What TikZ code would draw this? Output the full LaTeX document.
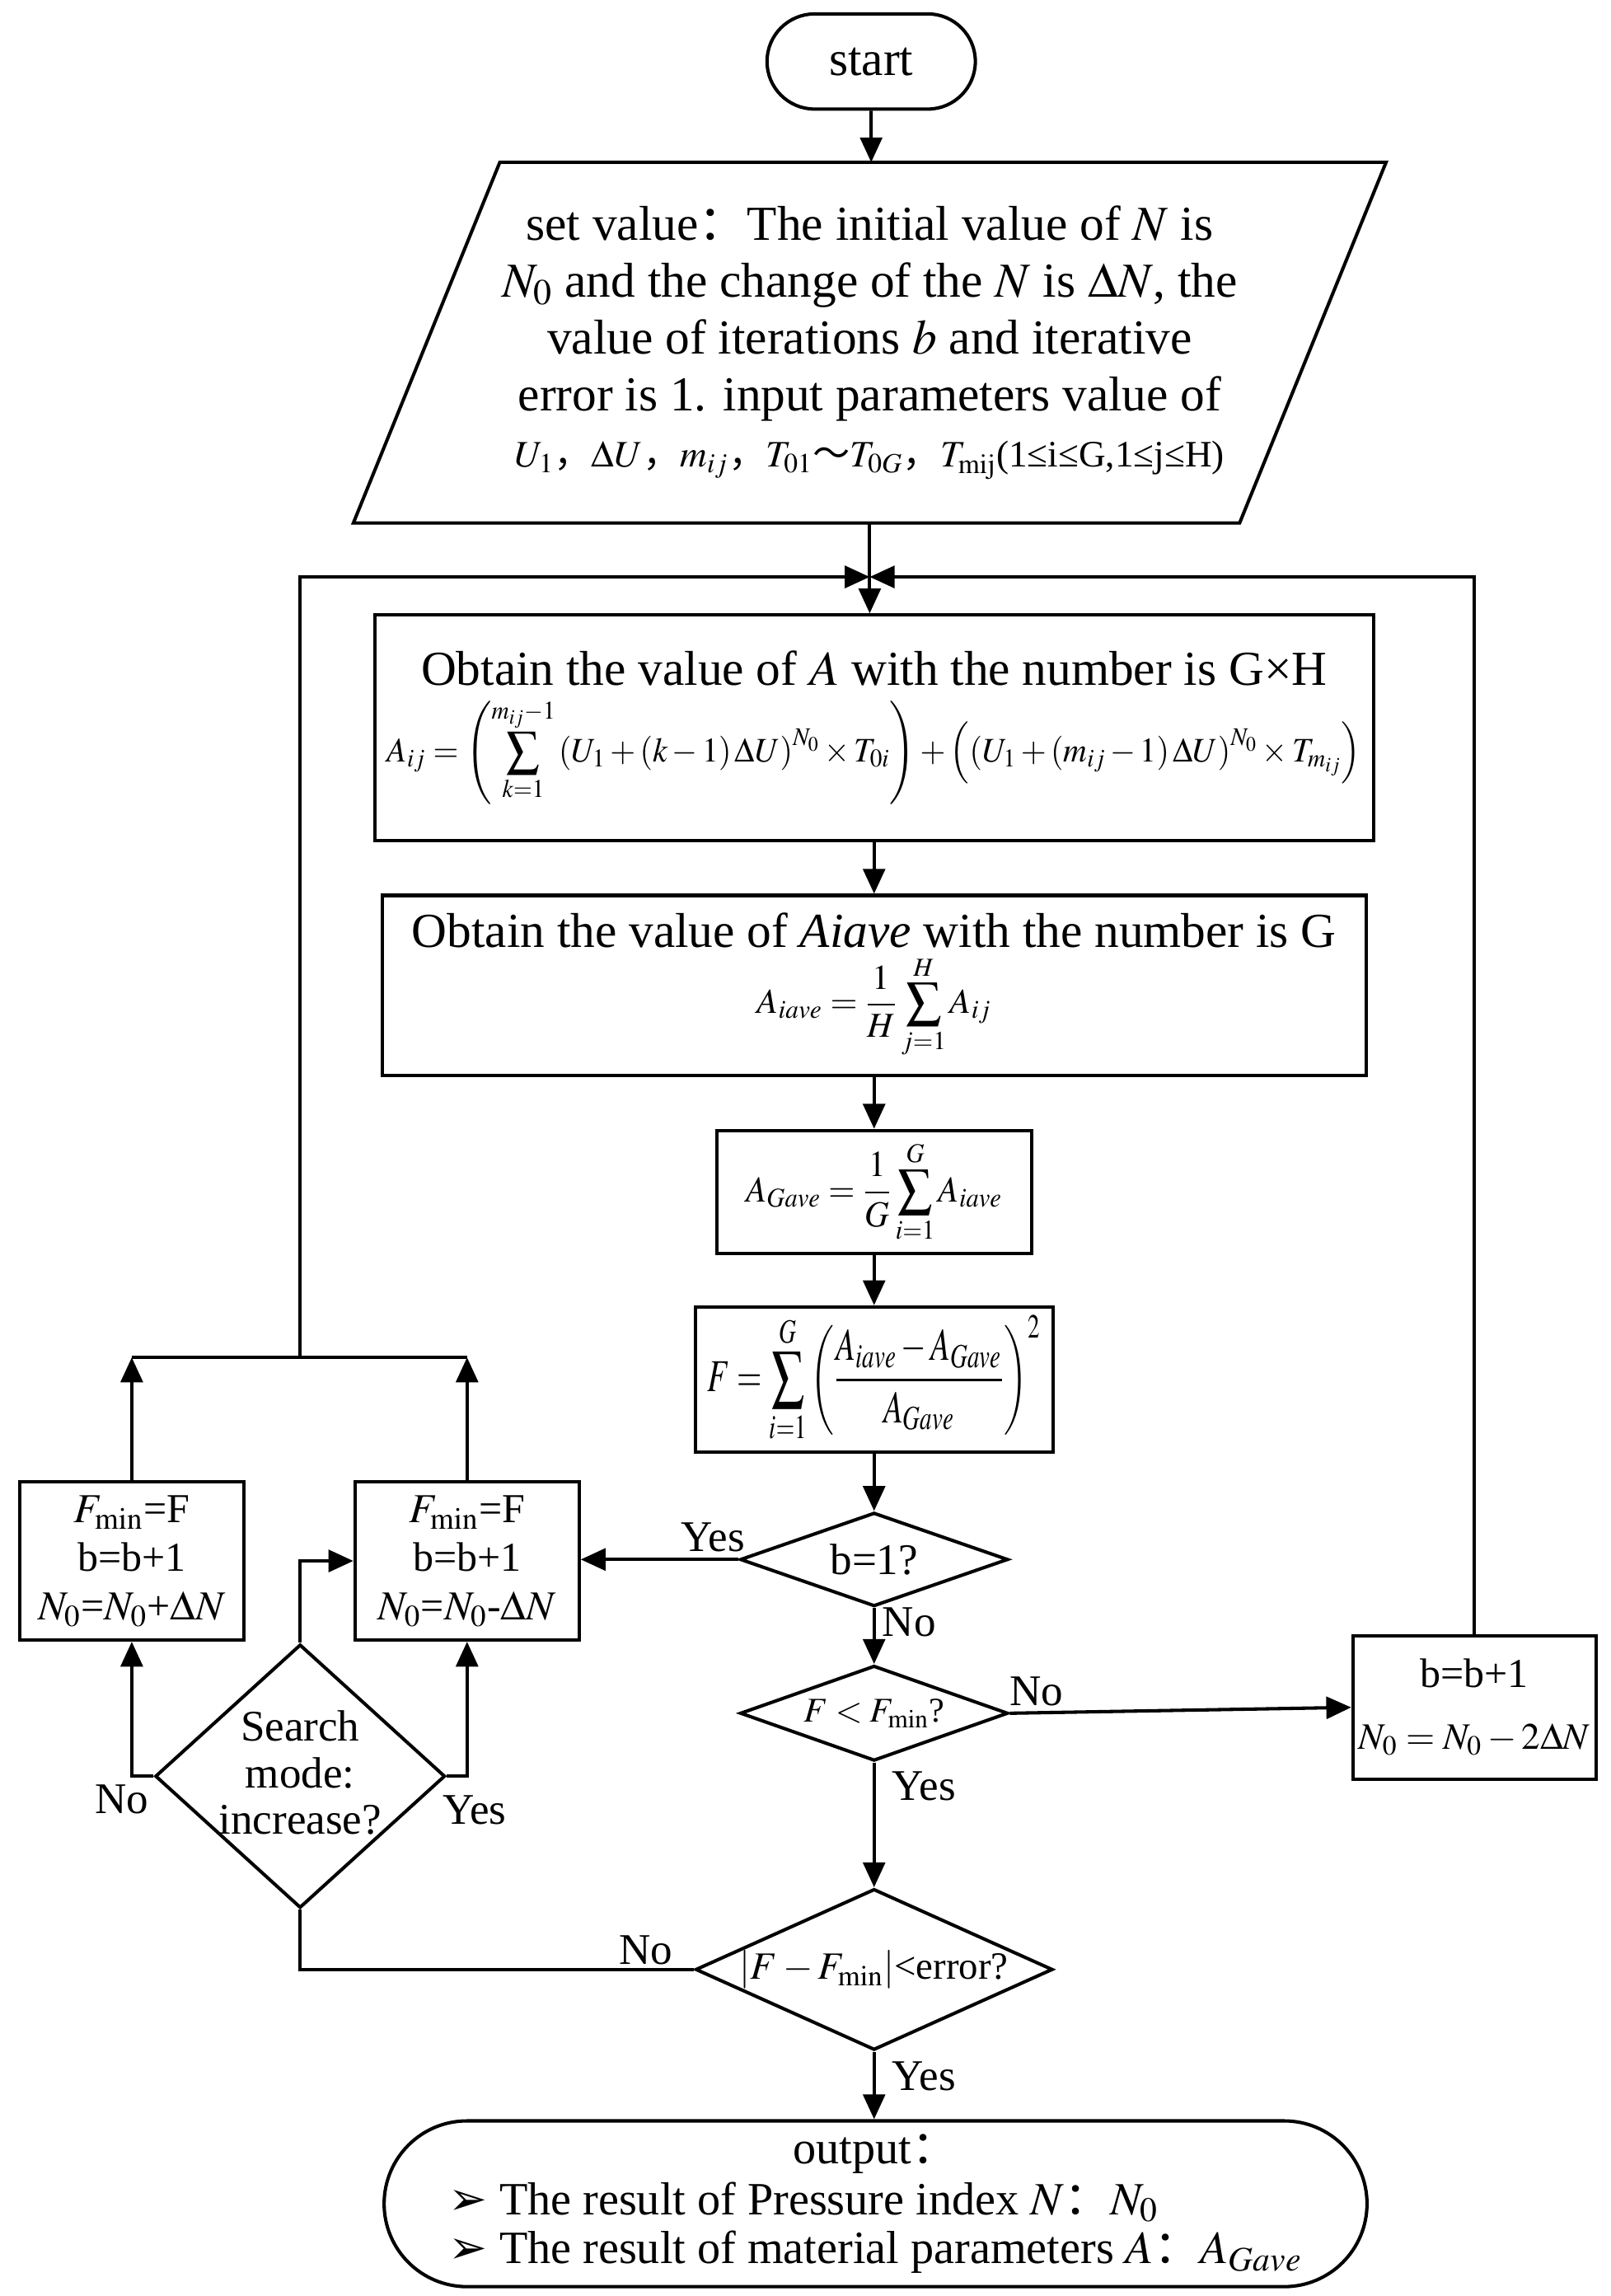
\documentclass[tikz,border=0pt]{standalone}
\usepackage{mathptmx}
\usepackage{graphicx}
\usepackage{fontspec}
\setmainfont{Liberation Serif}
\newfontfamily\cjk{Noto Sans CJK SC}
\newfontfamily\dvsans{DejaVu Sans}
\usetikzlibrary{arrows.meta,shapes.geometric,shapes.misc}

\begin{document}
\begin{tikzpicture}[x=0.2mm, y=-0.2mm, line width=1.3pt,
    font=\fontsize{17}{22}\selectfont,
    big/.style={font=\fontsize{19}{22}\selectfont},
    box/.style={draw, rectangle, inner sep=2pt, align=center},
    dia/.style={draw, diamond, inner sep=0pt},
    arr/.style={-{Triangle[length=3.4mm,width=3mm]}}]
  \useasboundingbox (0,0) rectangle (1100,1568);

  % main column
  \node[draw, big, rounded rectangle, minimum width=3.08cm, minimum height=1.3cm] at (595,42) (St) {start};
  \node[big, rectangle, minimum width=12.06cm, minimum height=4.88cm,
        inner sep=0pt, align=center] at (594,234) (In)
    {set value{\cjk ：}The initial value of $N$ is\\
     $N_0$ and the change of the $N$ is $\Delta N$, the\\
     value of iterations $b$ and iterative\\
     error is 1. input parameters value of\\
     {\fontsize{14.5}{22}\selectfont $U_1${\cjk ，}$\Delta U${\cjk ，}$m_{ij}${\cjk ，}$T_{01}${\cjk ～}$T_{0G}${\cjk ，}$T_{\mathrm{mij}}$(1≤i≤G,1≤j≤H)}};
  \draw ([xshift=1cm]In.north west) -- ([xshift=1cm]In.north east)
     -- ([xshift=-1cm]In.south east) -- ([xshift=-1cm]In.south west) -- cycle;
  \coordinate (J) at (594,394);

  \node[box, big, minimum width=13.64cm, minimum height=3.08cm] at (597,497) (Aij)
    {Obtain the value of $A$ with the number is G×H\\[4pt]
     \resizebox*{13.3cm}{1.45cm}{$\displaystyle A_{ij}=\left(\sum_{k=1}^{m_{ij}-1}\left(U_1+\left(k-1\right)\Delta U\right)^{N_0}\times T_{0i}\right)+\left(\left(U_1+\left(m_{ij}-1\right)\Delta U\right)^{N_0}\times T_{m_{ij}}\right)$}};
  \node[box, big, minimum width=13.44cm, minimum height=2.46cm] at (597,673) (Ai)
    {Obtain the value of \textit{Aiave} with the number is G\\[2pt]
     \resizebox*{3.2cm}{1.4cm}{$\displaystyle A_{iave}=\frac{1}{H}\sum_{j=1}^{H}A_{ij}$}};
  \node[box, minimum width=4.3cm, minimum height=1.68cm] at (597,814) (AG)
    {\resizebox*{3.5cm}{1.4cm}{$\displaystyle A_{Gave}=\frac{1}{G}\sum_{i=1}^{G}A_{iave}$}};
  \node[box, minimum width=4.88cm, minimum height=1.98cm] at (597,942) (Fs)
    {\resizebox*{4.55cm}{1.75cm}{$\displaystyle F=\sum_{i=1}^{G}\left(\frac{A_{iave}-A_{Gave}}{A_{Gave}}\right)^2$}};

  \node[dia, minimum width=3.66cm, minimum height=1.28cm] at (597,1065) (D1) {\makebox[0pt]{b=1?}};
  \node[dia, minimum width=3.66cm, minimum height=1.3cm] at (597,1170) (D2)
    {\makebox[0pt]{\fontsize{13.5}{16}\selectfont $F<F_{\min}$?}};
  \node[dia, minimum width=4.88cm, minimum height=2.2cm] at (597,1345) (D3)
    {\makebox[0pt]{\fontsize{15}{18}\selectfont $\left|F-F_{\min}\right|$<error?}};
  \node[draw, rounded rectangle, minimum width=13.66cm, minimum height=2.12cm,
        font=\fontsize{18}{22}\selectfont] at (598,1505) (Out)
    {\renewcommand\arraystretch{0.86}\begin{tabular}{@{}l@{}}
     \multicolumn{1}{c}{output{\cjk ：}}\\[1pt]
     {\dvsans ➢} The result of Pressure index $N${\cjk ：}$N_0$\\
     {\dvsans ➢} The result of material parameters $A${\cjk ：}$A_{Gave}$
     \end{tabular}};

  % side boxes
  \node[box, minimum width=3.32cm, minimum height=1.96cm, font=\fontsize{16}{19}\selectfont] at (1007,1166) (BR)
    {b=b+1\\[5pt] {\fontsize{14.5}{19}\selectfont $N_0=N_0-2\Delta N$}};
  \node[box, minimum width=3.06cm, minimum height=2.16cm, font=\fontsize{16}{19}\selectfont] at (90,1066) (FL)
    {$F_{\min}$=F\\ b=b+1\\ $N_0$=$N_0$+$\Delta N$};
  \node[box, minimum width=3.06cm, minimum height=2.16cm, font=\fontsize{16}{19}\selectfont] at (319,1066) (FB)
    {$F_{\min}$=F\\ b=b+1\\ $N_0$=$N_0$-$\Delta N$};
  \node[dia, minimum width=3.96cm, minimum height=3.6cm] at (205,1213) (SM)
    {\makebox[0pt]{\begin{tabular}{@{}c@{}}Search\\[-4pt] mode:\\[-4pt] increase?\end{tabular}}};
  \coordinate (T) at (205,927);

  % connectors
  \draw[arr] (St) -- (St |- In.north);
  \draw[arr] (In.south) -- (In.south |- Aij.north);
  \draw[arr] (Aij) -- (Ai);
  \draw[arr] (Ai) -- (AG);
  \draw[arr] (AG) -- (Fs);
  \draw[arr] (Fs) -- (D1);
  \draw[arr] (D1) -- (D2);
  \draw[arr] (D2) -- (D3);
  \draw[arr] (D3) -- (D3.south |- Out.north);
  \draw[arr] (D1.west) -- (FB.east |- D1.west);
  \draw[arr] (D2.east) -- (BR.west);
  \draw[arr] (BR) |- (J);
  \draw (D3.west) -| (SM.south);
  \draw[arr] (SM.west) -| (FL.south);
  \draw[arr] (SM.east) -| (FB.south);
  \draw[arr] (SM.north) |- (FB.west);
  \draw[arr] (FL) -- (FL |- T);
  \draw[arr] (FB) -- (FB |- T);
  \draw (FL |- T) -- (FB |- T);
  \draw[arr] (T) |- (J);

  % branch labels
  \node at (487,1050) (y1) {Yes};
  \node at (621,1108) (n1) {No};
  \node at (708,1155) (n2) {No};
  \node at (631,1220) (y2) {Yes};
  \node at (441,1332) (n3) {No};
  \node at (631,1418) (y3) {Yes};
  \node at (83,1229) (n4) {No};
  \node at (324,1236) (y4) {Yes};
\end{tikzpicture}
\end{document}
